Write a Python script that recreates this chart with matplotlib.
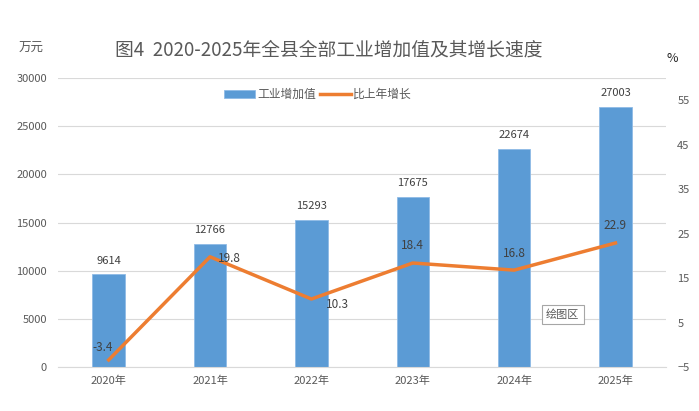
import numpy as np
import matplotlib
matplotlib.use("Agg")
import matplotlib.pyplot as plt

plt.rcParams['font.family'] = ['Noto Sans CJK SC', 'DejaVu Sans']

years = ["2020年", "2021年", "2022年", "2023年", "2024年", "2025年"]
value_added = [9614, 12766, 15293, 17675, 22674, 27003]
growth = [-3.4, 19.8, 10.3, 18.4, 16.8, 22.9]

bar_color = "#5b9bd5"
line_color = "#ed7d31"
text_gray = "#595959"

fig = plt.figure(figsize=(6.99, 4.11), dpi=100)
ax = fig.add_axes([0.083, 0.107, 0.870, 0.703])
x = np.arange(len(years))

ax.bar(x, value_added, width=0.32, color=bar_color, edgecolor="#8fbbe6", linewidth=0.6,
       zorder=2, label="工业增加值")
ax.set_xlim(-0.5, len(years) - 0.5)
ax.set_ylim(0, 30000)
ax.set_yticks(range(0, 30001, 5000))
ax.grid(axis="y", color="#d9d9d9", linewidth=0.8, zorder=0)
for s in ["top", "right", "left"]:
    ax.spines[s].set_visible(False)
ax.spines["bottom"].set_color("#d9d9d9")
ax.tick_params(axis="y", length=0, labelsize=8, labelcolor=text_gray, pad=8)
ax.tick_params(axis="x", length=0, labelsize=8, labelcolor=text_gray, pad=6)
ax.set_xticks(x)
ax.set_xticklabels(years)
for xi, v in zip(x, value_added):
    ax.text(xi, v + 900, str(v), ha="center", va="bottom", fontsize=8, color="#404040")

ax2 = ax.twinx()
ax2.plot(x, growth, color=line_color, linewidth=2.5, zorder=3, label="比上年增长")
ax2.set_ylim(-5, 60)
ax2.set_yticks(range(-5, 56, 10))
for s in ["top", "right", "left", "bottom"]:
    ax2.spines[s].set_visible(False)
ax2.tick_params(axis="y", length=0, labelsize=8, labelcolor=text_gray, pad=8)

offsets = [(-0.06, 2.9), (0.19, -0.4), (0.26, -1.2), (0.0, 4.0), (0.0, 3.8), (0.0, 4.0)]
for xi, g, (dx, dy) in zip(x, growth, offsets):
    ax2.text(xi + dx, g + dy, f"{g}", ha="center", va="center", fontsize=8.5, color="#404040",
             zorder=4)

h1, l1 = ax.get_legend_handles_labels()
h2, l2 = ax2.get_legend_handles_labels()
fig.legend(h1 + h2, l1 + l2, loc="center", bbox_to_anchor=(0.455, 0.77), ncol=2,
           frameon=False, fontsize=8.5, handlelength=2.6, columnspacing=0.3,
           handletextpad=0.2, labelcolor=text_gray)

fig.text(0.47, 0.878, "图4  2020-2025年全县全部工业增加值及其增长速度", ha="center", va="center",
         fontsize=13.5, color=text_gray)
fig.text(0.045, 0.882, "万元", ha="center", va="center", fontsize=9, color=text_gray)
fig.text(0.962, 0.858, "%", ha="center", va="center", fontsize=9, color="#262626")

ax2.text(4.48, 6.8, "绘图区", ha="center", va="center", fontsize=8, color=text_gray, zorder=5,
         bbox=dict(boxstyle="square,pad=0.4", facecolor="white", edgecolor="#a6a6a6", linewidth=0.8))

fig.savefig("out.png", dpi=100)
